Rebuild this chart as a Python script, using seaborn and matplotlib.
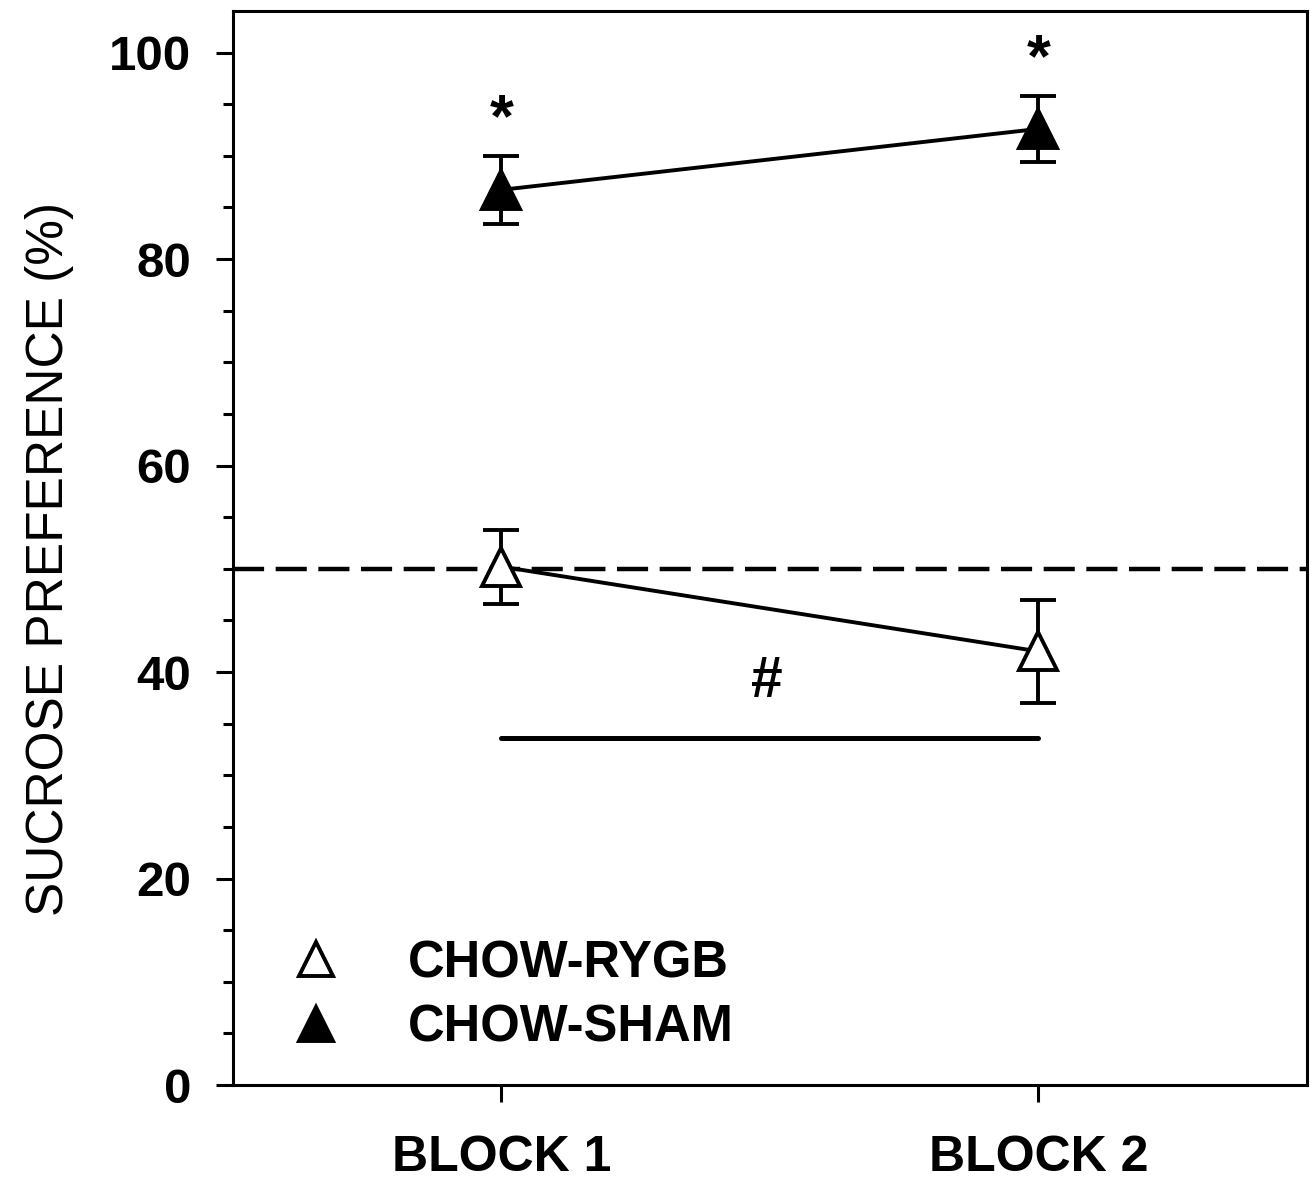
import numpy as np
import pandas as pd
import seaborn as sns
import matplotlib.pyplot as plt
from matplotlib.lines import Line2D
from matplotlib.ticker import MultipleLocator

# values
blocks = ['BLOCK 1', 'BLOCK 2']
groups = ['CHOW-RYGB', 'CHOW-SHAM']
rygb_mean = [50.2, 42.0]
rygb_sem = [3.6, 5.0]
sham_mean = [86.7, 92.6]
sham_sem = [3.3, 3.2]
chance_level = 50

df = pd.DataFrame({
    'block': blocks * 2,
    'group': [groups[0]] * 2 + [groups[1]] * 2,
    'pref': rygb_mean + sham_mean,
    'sem': rygb_sem + sham_sem,
})

sns.set_style('ticks')
plt.rcParams['font.family'] = ['Liberation Sans', 'DejaVu Sans']
plt.rcParams['text.color'] = 'black'
plt.rcParams['axes.labelcolor'] = 'black'
plt.rcParams['xtick.color'] = 'black'
plt.rcParams['ytick.color'] = 'black'

fig = plt.figure(figsize=(13.16, 11.8), dpi=100)
ax = fig.add_axes([0.177, 0.0805, 0.816, 0.91])

# dashed chance line underneath
ax.axhline(chance_level, color='black', lw=3.2, ls=(0, (7, 2.6)), zorder=1)

sns.lineplot(data=df, x='block', y='pref', units='group', estimator=None,
             color='black', lw=2.8, ax=ax, legend=False, zorder=2)

face = {'CHOW-RYGB': 'white', 'CHOW-SHAM': 'black'}
for g, sub in df.groupby('group'):
    ax.errorbar(sub['block'], sub['pref'], yerr=sub['sem'], fmt='^', ms=27,
                mfc=face[g], mec='black', mew=2.8, ecolor='black',
                elinewidth=2.8, capsize=13, capthick=2.8, zorder=3)

# significance marks
ax.text(0, 93.4, '*', ha='center', va='center', fontsize=44, fontweight='bold')
ax.text(1, 99.2, '*', ha='center', va='center', fontsize=44, fontweight='bold')
ax.text(0.495, 39.0, '#', ha='center', va='center', fontsize=41, fontweight='bold')
ax.plot([0, 1], [33.6, 33.6], color='black', lw=3.6)

ax.set_xlim(-0.5, 1.5)
ax.set_ylim(0, 104)
ax.yaxis.set_major_locator(MultipleLocator(20))
ax.yaxis.set_minor_locator(MultipleLocator(5))
ax.set_xlabel('')
ax.set_ylabel('SUCROSE PREFERENCE (%)', fontsize=37, labelpad=29)
ax.yaxis.set_label_coords(-0.148, 0.49)

for s in ax.spines.values():
    s.set_linewidth(2.2)
    s.set_color('black')
ax.tick_params(axis='y', which='major', direction='out', length=12, width=2.2,
               labelsize=35.5, pad=18)
ax.tick_params(axis='y', which='minor', direction='out', length=7, width=2.2)
ax.tick_params(axis='x', direction='out', length=12, width=2.2,
               labelsize=36, pad=24)
for lab in ax.get_xticklabels() + ax.get_yticklabels():
    lab.set_fontweight('bold')

handles = [Line2D([], [], marker='^', ls='none', ms=24, mfc=face[g], mec='black', mew=2.8)
           for g in groups]
leg = ax.legend(handles, groups, loc='lower left', bbox_to_anchor=(-0.012, -0.012),
                frameon=False, handletextpad=0.8, labelspacing=0.3,
                prop={'size': 36.5, 'weight': 'bold'})

fig.savefig('out.png', dpi=100)
